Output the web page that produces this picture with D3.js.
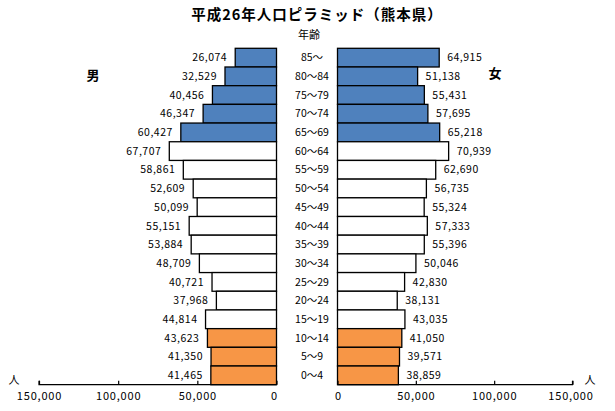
<!DOCTYPE html>
<html>
<head>
<meta charset="utf-8">
<script src="https://cdn.jsdelivr.net/npm/d3@7"></script>
<style>
  body { margin: 0; background: #fff; }
  text { font-family: "Noto Sans CJK JP", "DejaVu Sans", sans-serif; fill: #000; }
</style>
</head>
<body>
<svg id="chart" width="615" height="411"></svg>
<script>
// age groups, top to bottom
var ages = ["85〜", "80〜84", "75〜79", "70〜74", "65〜69", "60〜64", "55〜59", "50〜54", "45〜49",
            "40〜44", "35〜39", "30〜34", "25〜29", "20〜24", "15〜19", "10〜14", "5〜9", "0〜4"];
var male = [26074, 32529, 40456, 46347, 60427, 67707, 58861, 52609, 50099,
            55151, 53884, 48709, 40721, 37968, 44814, 43623, 41350, 41465];
var female = [64915, 51138, 55431, 57695, 65218, 70939, 62690, 56735, 55324,
              57333, 55396, 50046, 42830, 38131, 43035, 41050, 39571, 38859];
// which band each age group belongs to (65+, 15-64, 0-14)
var band = ["old", "old", "old", "old", "old", "work", "work", "work", "work",
            "work", "work", "work", "work", "work", "work", "young", "young", "young"];
var tickVals = [0, 50000, 100000, 150000];

var bandColor = { old: "#4f81bd", work: "#ffffff", young: "#f79646" };
var fmt = d3.format(",");

var svg = d3.select("#chart");

const y = d3.scaleBand()
    .domain(ages)
    .range([48.3, 384.7])
    .padding(0);

/** left side goes right-to-left */
const xL = d3.scaleLinear().domain([0, 150000]).range([276.5, 39]);
const xR = d3.scaleLinear().domain([0, 150000]).range([337.5, 572.5]);

var rows = ages.map(function(a, i) {
    return { age: a, m: male[i], f: female[i], band: band[i] };
});

// male bars
svg.selectAll(".barM").data(rows).join("rect")
    .attr("class", "barM")
    .attr("x", d => xL(d.m))
    .attr("y", d => y(d.age))
    .attr("width", d => xL(0) - xL(d.m))
    .attr("height", y.bandwidth())
    .attr("fill", d => bandColor[d.band])
    .attr("stroke", "#000")
    .attr("stroke-width", 1.3);

// female bars
svg.selectAll(".barF").data(rows).join("rect")
    .attr("class", "barF")
    .attr("x", xR(0))
    .attr("y", d => y(d.age))
    .attr("width", d => xR(d.f) - xR(0))
    .attr("height", y.bandwidth())
    .attr("fill", d => bandColor[d.band])
    .attr("stroke", "#000")
    .attr("stroke-width", 1.3);

// value labels
svg.selectAll(".lblM").data(rows).join("text")
    .attr("class", "lblM")
    .attr("x", d => xL(d.m) - 8)
    .attr("y", d => y(d.age) + y.bandwidth() / 2)
    .attr("dy", "0.35em")
    .attr("text-anchor", "end")
    .style("font-size", "10.5px")
    .style("letter-spacing", "0.5px")
    .text(d => fmt(d.m));

svg.selectAll(".lblF").data(rows).join("text")
    .attr("class", "lblF")
    .attr("x", d => xR(d.f) + 8)
    .attr("y", d => y(d.age) + y.bandwidth() / 2)
    .attr("dy", "0.35em")
    .attr("text-anchor", "start")
    .style("font-size", "10.5px")
    .style("letter-spacing", "0.5px")
    .text(d => fmt(d.f));

// age labels in the middle
svg.selectAll(".lblAge").data(rows).join("text")
    .attr("class", "lblAge")
    .attr("x", 312)
    .attr("y", d => y(d.age) + y.bandwidth() / 2)
    .attr("dy", "0.35em")
    .attr("text-anchor", "middle")
    .style("font-size", "10.5px")
    .text(d => d.age);

/** axes: ticks point up */
var axisY = y.range()[1];
var gL = svg.append("g").attr("transform", `translate(0,${axisY})`)
    .call(d3.axisTop(xL).tickValues(tickVals).tickSize(4).tickFormat(fmt));
var gR = svg.append("g").attr("transform", `translate(0,${axisY})`)
    .call(d3.axisTop(xR).tickValues(tickVals).tickSize(4).tickFormat(fmt));
gL.select(".domain").attr("d", `M${xL(150000)},-4V0H${xL(0)}`);
gR.select(".domain").attr("d", `M${xR(0)},0H${xR(150000)}V-4`);
[gL, gR].forEach(function(g) {
    g.select(".domain").attr("stroke", "#000").attr("stroke-width", 1.2);
    g.selectAll(".tick line").attr("stroke", "#000").attr("stroke-width", 1.2);
    g.selectAll(".tick text")
        .attr("y", 12)
        .attr("dy", 0)
        .attr("dominant-baseline", "middle")
        .style("font-size", "11px")
        .style("letter-spacing", "0.8px")
        .style("font-family", "'Noto Sans CJK JP', sans-serif");
});
// the "0" on each side sits at the bar edge
gL.selectAll(".tick text").filter(d => d === 0).attr("text-anchor", "end").attr("dx", 1);
gR.selectAll(".tick text").filter(d => d === 0).attr("text-anchor", "start").attr("dx", -3);
gR.selectAll(".tick text").filter(d => d === 150000).attr("dx", -2);

// unit labels
svg.append("text").attr("x", 14).attr("y", 384).attr("text-anchor", "middle")
    .style("font-size", "11px").text("人");
svg.append("text").attr("x", 590).attr("y", 384).attr("text-anchor", "middle")
    .style("font-size", "11px").text("人");

// title, headings
svg.append("text").attr("x", 317).attr("y", 15).attr("dy", "0.35em")
    .attr("text-anchor", "middle")
    .style("font-size", "14.5px").style("font-weight", "bold").style("letter-spacing", "1px")
    .text("平成26年人口ピラミッド（熊本県）");
svg.append("text").attr("x", 309).attr("y", 35).attr("dy", "0.35em")
    .attr("text-anchor", "middle")
    .style("font-size", "11px")
    .text("年齢");
svg.append("text").attr("x", 93).attr("y", 75).attr("dy", "0.35em")
    .attr("text-anchor", "middle")
    .style("font-size", "13px").style("font-weight", "bold")
    .text("男");
svg.append("text").attr("x", 495).attr("y", 73).attr("dy", "0.35em")
    .attr("text-anchor", "middle")
    .style("font-size", "13px").style("font-weight", "bold")
    .text("女");
</script>
</body>
</html>
